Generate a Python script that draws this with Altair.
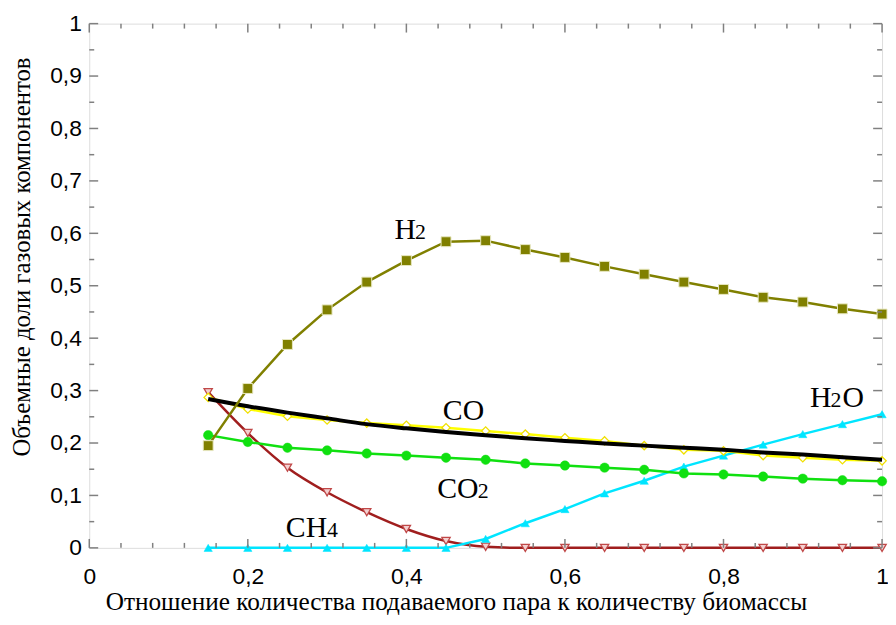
import altair as alt
import pandas as pd

# ---- data ----
X = [0.15, 0.2, 0.25, 0.3, 0.35, 0.4, 0.45, 0.5, 0.55, 0.6, 0.65, 0.7, 0.75, 0.8, 0.85, 0.9, 0.95, 1.0]
H2 = [0.195, 0.304, 0.388, 0.454, 0.507, 0.548, 0.584, 0.586, 0.569, 0.554, 0.537, 0.522, 0.507, 0.493, 0.478, 0.469, 0.456, 0.446]
CO = [0.287, 0.265, 0.251, 0.244, 0.238, 0.234, 0.229, 0.223, 0.217, 0.210, 0.204, 0.195, 0.187, 0.185, 0.176, 0.172, 0.168, 0.166]
CO_FIT = [0.284, 0.270, 0.258, 0.247, 0.236, 0.228, 0.221, 0.215, 0.209, 0.204, 0.199, 0.195, 0.191, 0.187, 0.182, 0.178, 0.173, 0.168]
CO2 = [0.215, 0.202, 0.191, 0.186, 0.180, 0.176, 0.172, 0.168, 0.161, 0.157, 0.153, 0.149, 0.142, 0.140, 0.136, 0.132, 0.129, 0.127]
CH4 = [0.297, 0.219, 0.153, 0.106, 0.068, 0.036, 0.013, 0.002, 0, 0, 0, 0, 0, 0, 0, 0, 0, 0]
H2O = [0, 0, 0, 0, 0, 0, 0, 0.017, 0.047, 0.074, 0.104, 0.128, 0.155, 0.176, 0.197, 0.217, 0.236, 0.255]

X_TICKS = [0, 0.2, 0.4, 0.6, 0.8, 1]
Y_TICKS = [0, 0.1, 0.2, 0.3, 0.4, 0.5, 0.6, 0.7, 0.8, 0.9, 1]
X_MINOR = [0.04, 0.08, 0.12, 0.16, 0.24, 0.28, 0.32, 0.36, 0.44, 0.48, 0.52, 0.56,
           0.64, 0.68, 0.72, 0.76, 0.84, 0.88, 0.92, 0.96]
Y_MINOR = [0.05, 0.15, 0.25, 0.35, 0.45, 0.55, 0.65, 0.75, 0.85, 0.95]

# curve labels (main letters and subscripts)
LABEL_TEXT = ["H", "2", "CO", "CO", "2", "CH", "4", "H", "2", "O"]
LABEL_X = [0.385, 0.411, 0.446, 0.439, 0.490, 0.248, 0.300, 0.909, 0.935, 0.950]
LABEL_Y = [0.590, 0.590, 0.244, 0.096, 0.096, 0.021, 0.021, 0.268, 0.268, 0.268]
LABEL_SUB = [False, True, False, False, True, False, True, False, True, False]

W, H = 800, 529
GRAY = "#808080"

xscale = alt.Scale(domain=[0, 1], nice=False, zero=False)
yscale = alt.Scale(domain=[0, 1], nice=False, zero=False)

xaxis = alt.Axis(values=X_TICKS, format="~g", labelExpr="replace(datum.label, '.', ',')",
                 ticks=False, domain=False, grid=False, labelFlush=False, labelOverlap=False,
                 labelFont="Liberation Sans", labelFontSize=23, labelColor="black", labelPadding=18,
                 title="Отношение количества подаваемого пара к количеству биомассы",
                 titleFont="Liberation Serif", titleFontSize=25.5, titleFontWeight="normal",
                 titleColor="black", titleX=370, titleY=62, titleAlign="center",
                 titleBaseline="alphabetic")
yaxis = alt.Axis(values=Y_TICKS, format="~g", labelExpr="replace(datum.label, '.', ',')",
                 ticks=False, domain=False, grid=False, labelFlush=False, labelOverlap=False,
                 labelFont="Liberation Sans", labelFontSize=23, labelColor="black", labelPadding=8,
                 title="Объемные доли газовых компонентов",
                 titleFont="Liberation Serif", titleFontSize=25, titleFontWeight="normal",
                 titleColor="black", titlePadding=15, titleY=235)

XE = alt.X("x:Q", scale=xscale, axis=xaxis)
YE = alt.Y("y:Q", scale=yscale, axis=yaxis)

def series(vals):
    return pd.DataFrame({"x": X, "y": vals})

def line_layer(vals, color, width, interp="linear"):
    return alt.Chart(series(vals)).mark_line(color=color, strokeWidth=width, interpolate=interp).encode(x=XE, y=YE)

def point_layer(vals, shape, size, fill, stroke, sw=1, filled=True):
    return alt.Chart(series(vals)).mark_point(shape=shape, size=size, filled=filled, fill=fill,
                                             stroke=stroke, strokeWidth=sw, opacity=1).encode(x=XE, y=YE)

layers = [
    line_layer(CH4, "#a01e1e", 2.5, "monotone"),
    point_layer(CH4, "triangle-down", 70, "#f3d0d0", "#c04848", 1.3),
    line_layer(H2O, "#00e5ff", 2.5),
    point_layer(H2O, "triangle-up", 70, "#00e5ff", "#00e5ff", 0.5),
    line_layer(CO2, "#10e010", 2.5),
    point_layer(CO2, "circle", 90, "#10e010", "#10e010", 0.5),
    line_layer(CO, "#ffff00", 2.5),
    point_layer(CO, "diamond", 70, "white", "#f0e000", 1.3),
    line_layer(CO_FIT, "black", 4, "monotone"),
    line_layer(H2, "#808000", 2.5),
    point_layer(H2, "square", 100, "#808000", "#e8e8c0", 1),
]

# inward ticks on all four sides
xmaj = pd.DataFrame({"x": X_TICKS})
xmin = pd.DataFrame({"x": X_MINOR})
ymaj = pd.DataFrame({"y": Y_TICKS})
ymin = pd.DataFrame({"y": Y_MINOR})
tick_style = dict(color=GRAY, strokeWidth=1.5)
layers += [
    alt.Chart(xmaj).mark_rule(**tick_style).encode(x=XE, y=alt.value(H), y2=alt.value(H - 9)),
    alt.Chart(xmaj).mark_rule(**tick_style).encode(x=XE, y=alt.value(0), y2=alt.value(9)),
    alt.Chart(xmin).mark_rule(**tick_style).encode(x=XE, y=alt.value(H), y2=alt.value(H - 5)),
    alt.Chart(xmin).mark_rule(**tick_style).encode(x=XE, y=alt.value(0), y2=alt.value(5)),
    alt.Chart(ymaj).mark_rule(**tick_style).encode(y=YE, x=alt.value(0), x2=alt.value(9)),
    alt.Chart(ymaj).mark_rule(**tick_style).encode(y=YE, x=alt.value(W), x2=alt.value(W - 9)),
    alt.Chart(ymin).mark_rule(**tick_style).encode(y=YE, x=alt.value(0), x2=alt.value(5)),
    alt.Chart(ymin).mark_rule(**tick_style).encode(y=YE, x=alt.value(W), x2=alt.value(W - 5)),
]

labels = pd.DataFrame({"x": LABEL_X, "y": LABEL_Y, "t": LABEL_TEXT, "sub": LABEL_SUB})
layers += [
    alt.Chart(labels).transform_filter("!datum.sub").mark_text(
        align="left", baseline="alphabetic", font="Liberation Serif", fontSize=30, color="black"
    ).encode(x=XE, y=YE, text="t:N"),
    alt.Chart(labels).transform_filter("datum.sub").mark_text(
        align="left", baseline="alphabetic", font="Liberation Serif", fontSize=22, color="black"
    ).encode(x=XE, y=YE, text="t:N"),
]

chart = alt.layer(*layers).properties(
    width=W, height=H,
    autosize=alt.AutoSizeParams(type="none"),
    padding={"left": 82, "top": 13, "right": 6, "bottom": 67},
).configure_view(stroke=GRAY, strokeWidth=2).configure(background="white")

chart.save("out.html", embed_options={"renderer": "svg", "actions": False})
